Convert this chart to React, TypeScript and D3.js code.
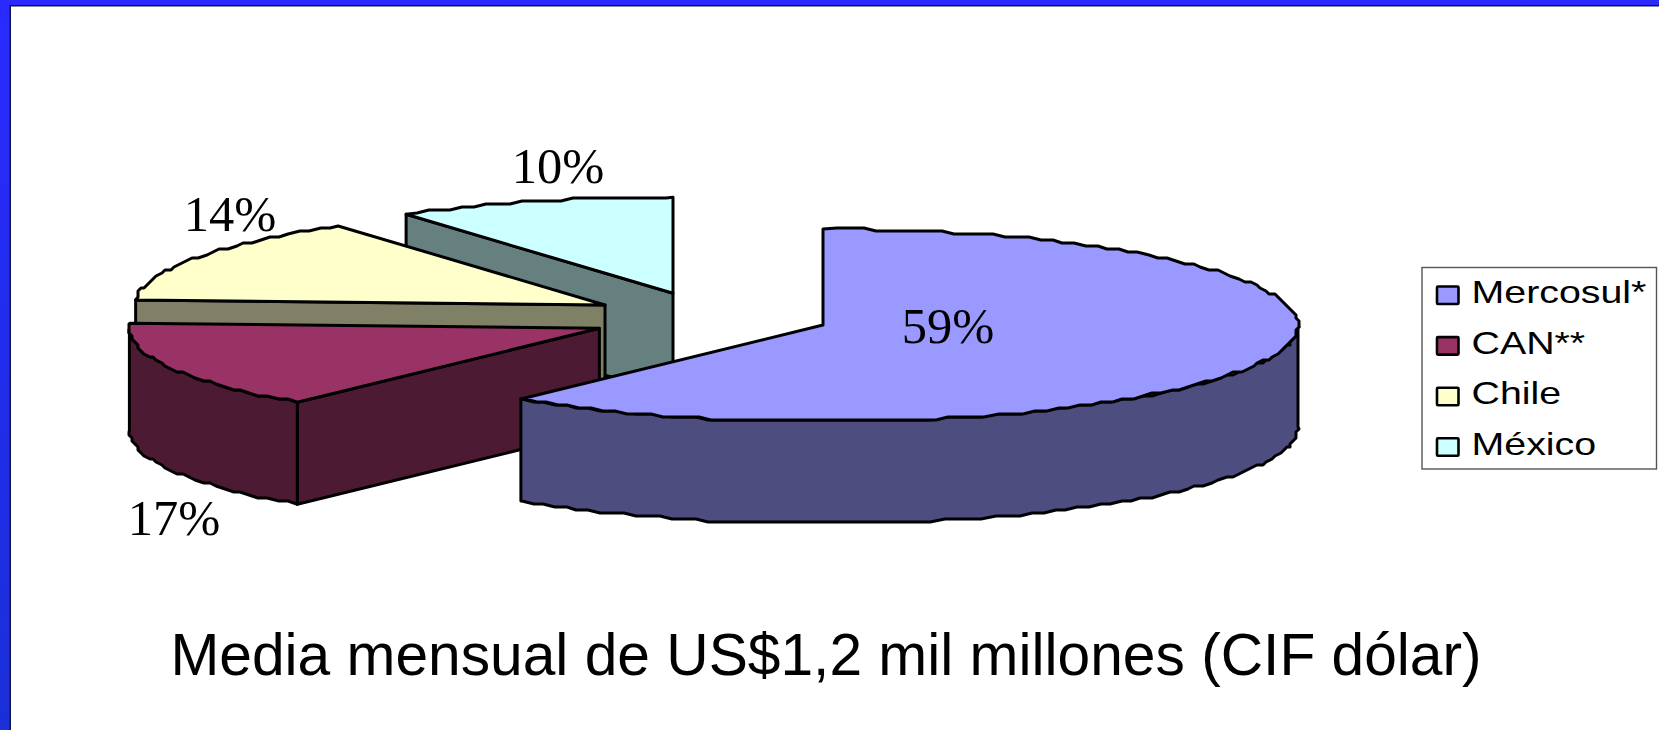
import React from "react";
import * as d3 from "d3";

// ---- data ----
const categories = ["Mercosul*", "CAN**", "Chile", "México"];
const shareLabels = ["59%", "17%", "14%", "10%"];
// Apparent sweep of each wedge on the drawn disc, in degrees
const sweepDegrees = [220, 53, 52.4, 34.6];
const topColors = ["#9999FF", "#993366", "#FFFFCC", "#CCFFFF"];
const sideColors = ["#4D4D80", "#4D1A33", "#808066", "#668080"];
const title = "Media mensual de US$1,2 mil millones (CIF dólar)";

// ---- layout ----
const W = 1659, H = 730;
const RX_LEFT = 470, RX_RIGHT = 475, RY_BACK = 96, RY_FRONT = 96.5, DEPTH = 102;
const apexX = [823, 599.4, 605, 673];
const apexY = [325, 328.3, 305, 293.3];
const labelPos = [[948, 343], [174, 535], [230, 231], [558, 183]];

const rad = (d: number) => (d * Math.PI) / 180;
const rimAngles = (a: number, b: number) => [...d3.range(a, b, 1.6), b];

function App() {
  const pie = d3.pie<number>().sort(null).value((d) => d)(sweepDegrees);
  const line = d3.line<number[]>().curve(d3.curveLinear);

  const slices = pie.map((p, i) => {
    const a = (p.startAngle * 180) / Math.PI;
    const b = (p.endAngle * 180) / Math.PI;
    const sx = d3.scaleLinear().domain([-1, 0, 1]).range([apexX[i] - RX_LEFT, apexX[i], apexX[i] + RX_RIGHT]);
    const sy = d3.scaleLinear().domain([-1, 0, 1]).range([apexY[i] - RY_BACK, apexY[i], apexY[i] + RY_FRONT]);
    // the original outline was drawn on a coarse device grid, hence the stepped rim
    const pt = (deg: number) => {
      const x = sx(Math.sin(rad(deg)));
      const y = sy(-Math.cos(rad(deg)));
      return [Math.round(x / 3) * 3, Math.round(y / 3) * 3];
    };
    const exact = (deg: number) => [
      sx(Math.sin(rad(deg))),
      sy(-Math.cos(rad(deg))),
    ];
    const arc = [exact(a), ...rimAngles(a, b).slice(1, -1).map((d) => pt(d)), exact(b)];
    const apex = [apexX[i], apexY[i]];
    const top = line([apex, ...arc, apex]) + "Z";

    const walls: string[] = [];
    // radial wall at the start edge, visible when it faces the viewer
    if (a > 180 && a < 360) {
      const r = exact(a);
      walls.push(
        line([apex, r, [r[0], r[1] + DEPTH], [apex[0], apex[1] + DEPTH]]) + "Z"
      );
    }
    // outer rim wall over the front half of the disc
    const fa = Math.max(a, 90), fb = Math.min(b, 270);
    if (fb > fa) {
      const up = [exact(fa), ...rimAngles(fa, fb).slice(1, -1).map((d) => pt(d)), exact(fb)];
      const down = [...up].reverse().map((q) => [q[0], q[1] + DEPTH]);
      walls.push(line([...up, ...down]) + "Z");
    }
    return { i, top, walls };
  });

  return (
    <svg
      width={W}
      height={H}
      viewBox={`0 0 ${W} ${H}`}
      style={{ position: "absolute", left: 0, top: 0, display: "block", background: "#fff" }}
    >
      <defs>
        <linearGradient id="edge" x1="0" y1="0" x2="0" y2="1">
          <stop offset="0" stopColor="#2A2AFF" />
          <stop offset="1" stopColor="#1A2FD8" />
        </linearGradient>
      </defs>
      <rect x={0} y={0} width={W} height={H} fill="url(#edge)" />
      <rect x={9.5} y={5} width={W} height={H} fill="#12124A" />
      <rect x={11} y={6.5} width={W} height={H} fill="#fff" />

      {[3, 2, 1, 0].map((k) => {
        const s = slices[k];
        return (
          <g key={k} stroke="#000" strokeWidth={3} strokeLinejoin="round">
            {s.walls.map((d, j) => (
              <path key={j} d={d} fill={sideColors[k]} />
            ))}
            <path d={s.top} fill={topColors[k]} />
          </g>
        );
      })}

      <g fontFamily="'Liberation Serif', serif" fontSize={50.5} fill="#000" textAnchor="middle">
        {shareLabels.map((t, i) => (
          <text key={t} x={labelPos[i][0]} y={labelPos[i][1]}>
            {t}
          </text>
        ))}
      </g>

      <rect x={1422} y={267.5} width={234.5} height={201.5} fill="#fff" stroke="#555" strokeWidth={1.4} />
      {categories.map((c, i) => (
        <g key={c}>
          <rect
            x={1437}
            y={286.5 + i * 50.6}
            width={21.5}
            height={17.5}
            rx={1}
            fill={topColors[i]}
            stroke="#000"
            strokeWidth={2.6}
          />
          <text
            transform={`translate(1471.5,${303 + i * 50.6}) scale(1.29,1)`}
            fontFamily="'Liberation Sans', sans-serif"
            fontSize={30.5}
            fill="#000"
          >
            {c}
          </text>
        </g>
      ))}

      <text
        x={826}
        y={675}
        textAnchor="middle"
        fontFamily="'Liberation Sans', sans-serif"
        fontSize={58.7}
        fill="#000"
      >
        {title}
      </text>
    </svg>
  );
}

export default App;
